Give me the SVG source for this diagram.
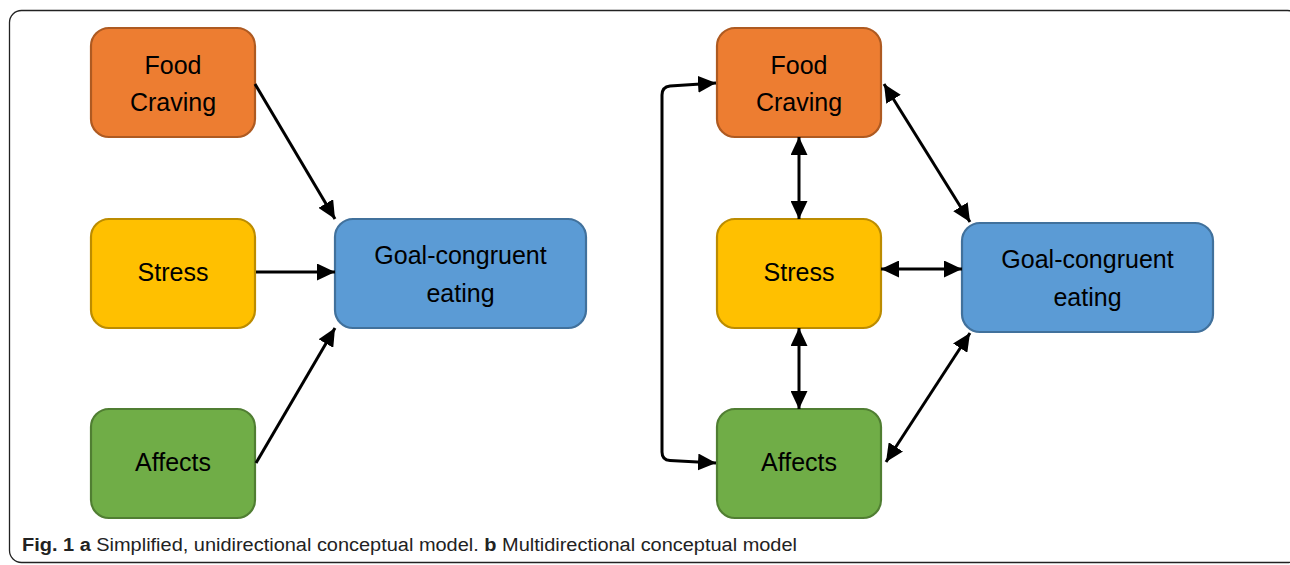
<svg xmlns="http://www.w3.org/2000/svg" width="1290" height="565" viewBox="0 0 1290 565">
<style>
.box{stroke-width:2.2}
.orange{fill:#ED7D31;stroke:#AE5A21}
.yellow{fill:#FFC000;stroke:#BC8C00}
.green{fill:#70AD47;stroke:#507E32}
.blue{fill:#5B9BD5;stroke:#41719C}
.lbl{font-family:"Liberation Sans",Arial,sans-serif;font-size:25px;fill:#000;text-anchor:middle}
.conn{fill:none;stroke:#000;stroke-width:3}
.cap{font-family:"Liberation Sans",Arial,sans-serif;font-size:18px;fill:#222}
</style>
<defs>
<marker id="ah" markerUnits="userSpaceOnUse" markerWidth="19" markerHeight="17" refX="18" refY="8.5" orient="auto-start-reverse">
<path d="M0,0 L18,8.5 L0,17 z" fill="#000"/>
</marker>
</defs>
<rect x="9.5" y="10.5" width="1290" height="552" rx="12" fill="#fff" stroke="#222" stroke-width="1.3"/>

<g id="a-food"><rect class="box orange" x="91" y="28" width="164" height="109" rx="18"/><text class="lbl" x="173" y="74">Food</text><text class="lbl" x="173" y="111">Craving</text></g>
<g id="a-stress"><rect class="box yellow" x="91" y="219" width="164" height="109" rx="18"/><text class="lbl" x="173" y="281">Stress</text></g>
<g id="a-affects"><rect class="box green" x="91" y="409" width="164" height="109" rx="18"/><text class="lbl" x="173" y="471">Affects</text></g>
<g id="a-goal"><rect class="box blue" x="335" y="219" width="251" height="109" rx="18"/><text class="lbl" x="460.5" y="264">Goal-congruent</text><text class="lbl" x="460.5" y="302">eating</text></g>

<g id="b-food"><rect class="box orange" x="717" y="28" width="164" height="109" rx="18"/><text class="lbl" x="799" y="74">Food</text><text class="lbl" x="799" y="111">Craving</text></g>
<g id="b-stress"><rect class="box yellow" x="717" y="219" width="164" height="109" rx="18"/><text class="lbl" x="799" y="281">Stress</text></g>
<g id="b-affects"><rect class="box green" x="717" y="409" width="164" height="109" rx="18"/><text class="lbl" x="799" y="471">Affects</text></g>
<g id="b-goal"><rect class="box blue" x="962" y="223" width="251" height="109" rx="18"/><text class="lbl" x="1087.5" y="268">Goal-congruent</text><text class="lbl" x="1087.5" y="306">eating</text></g>

<g id="connectors">
<path class="conn" d="M255,84 L335,219" marker-end="url(#ah)"/>
<path class="conn" d="M256,272 L335,272" marker-end="url(#ah)"/>
<path class="conn" d="M256,463 L335,328" marker-end="url(#ah)"/>

<path class="conn" d="M716,83 L670,86 Q662,87 662,95 L662,452 Q662,460 670,460.5 L716,463" marker-start="url(#ah)" marker-end="url(#ah)"/>
<path class="conn" d="M799,137 L799,219" marker-start="url(#ah)" marker-end="url(#ah)"/>
<path class="conn" d="M799,328 L799,409" marker-start="url(#ah)" marker-end="url(#ah)"/>
<path class="conn" d="M881,269 L962,269" marker-start="url(#ah)" marker-end="url(#ah)"/>
<path class="conn" d="M884,84 L970,222" marker-start="url(#ah)" marker-end="url(#ah)"/>
<path class="conn" d="M886,462 L970,333" marker-start="url(#ah)" marker-end="url(#ah)"/>
</g>

<text class="cap" x="22" y="551" textLength="775" lengthAdjust="spacingAndGlyphs"><tspan font-weight="bold">Fig. 1 a</tspan> Simplified, unidirectional conceptual model. <tspan font-weight="bold">b</tspan> Multidirectional conceptual model</text>
</svg>
